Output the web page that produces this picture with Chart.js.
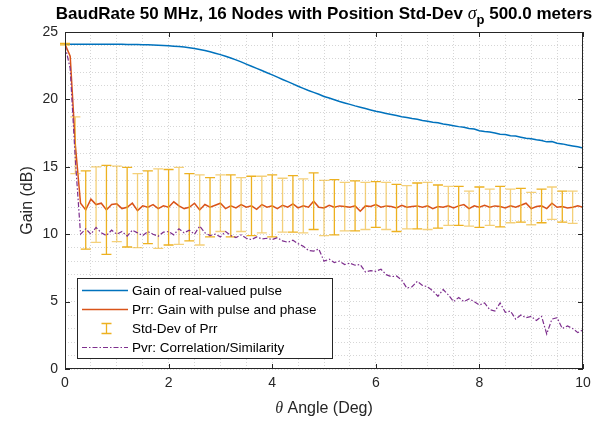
<!DOCTYPE html>
<html>
<head>
<meta charset="utf-8">
<script src="https://cdn.jsdelivr.net/npm/chart.js@4.4.1/dist/chart.umd.min.js"></script>
<style>
  html, body { margin: 0; padding: 0; background: #fff; }
</style>
</head>
<body>
<canvas id="chart" width="612" height="424"></canvas>
<script>
// angle in degrees (x values)
const angle = [0,0.1,0.2,0.3,0.4,0.5,0.6,0.7,0.8,0.9,1,1.1,1.2,1.3,1.4,1.5,1.6,1.7,1.8,1.9,2,2.1,2.2,2.3,2.4,2.5,2.6,2.7,2.8,2.9,3,3.1,3.2,3.3,3.4,3.5,3.6,3.7,3.8,3.9,4,4.1,4.2,4.3,4.4,4.5,4.6,4.7,4.8,4.9,5,5.1,5.2,5.3,5.4,5.5,5.6,5.7,5.8,5.9,6,6.1,6.2,6.3,6.4,6.5,6.6,6.7,6.8,6.9,7,7.1,7.2,7.3,7.4,7.5,7.6,7.7,7.8,7.9,8,8.1,8.2,8.3,8.4,8.5,8.6,8.7,8.8,8.9,9,9.1,9.2,9.3,9.4,9.5,9.6,9.7,9.8,9.9,10]

// Gain of real-valued pulse (dB)
const gainReal = [24.10,24.10,24.10,24.10,24.10,24.10,24.10,24.10,24.10,24.09,24.09,24.09,24.08,24.08,24.07,24.06,24.05,24.04,24.02,24.00,23.98,
  23.95,23.92,23.88,23.83,23.77,23.70,23.62,23.53,23.43,23.32,
  23.20,23.07,22.93,22.78,22.62,22.46,22.30,22.14,21.98,21.82,
  21.65,21.48,21.32,21.15,20.98,20.82,20.66,20.52,20.38,20.22,
  20.10,19.98,19.85,19.74,19.63,19.52,19.42,19.32,19.22,19.12,
  19.05,18.95,18.88,18.80,18.72,18.66,18.58,18.52,18.44,18.38,
  18.30,18.26,18.18,18.12,18.05,17.98,17.93,17.84,17.80,17.68,
  17.62,17.58,17.50,17.42,17.40,17.30,17.28,17.20,17.12,17.08,
  17.00,16.95,16.85,16.88,16.75,16.70,16.62,16.55,16.48,16.40,16.32]

// Prr: gain with pulse and phase (dB)
const prr = [24.1,23.2,16.6,12.3,11.8,12.6,12.2,12.3,11.8,12.2,12.25,
  11.9,12.0,12.3,11.75,12.1,12.0,12.2,11.9,12.1,12.0,
  12.4,12.1,11.9,12.0,12.3,11.8,12.2,12.0,12.15,12.3,
  11.9,12.1,11.95,12.2,12.0,12.1,11.85,12.2,12.0,12.1,
  11.9,12.15,12.0,12.25,11.95,12.1,12.0,12.45,12.0,11.95,
  12.15,12.0,12.1,12.05,12.0,12.1,11.7,12.1,12.05,12.2,
  12.0,12.1,12.05,11.95,12.15,12.0,12.05,12.1,12.0,12.1,
  11.9,12.05,12.0,12.1,11.95,12.1,12.2,11.9,12.1,12.0,
  12.15,12.0,12.1,12.05,11.95,12.1,12.0,12.15,12.3,11.9,
  12.05,12.1,11.9,12.3,12.0,12.05,11.95,12.0,12.1,12.0]

// Pvr: correlation / similarity (dB)
const pvr = [24.0,22.3,15.5,10.0,10.4,10.0,10.5,10.1,9.9,10.3,10.0,
  10.2,9.85,10.3,10.1,9.9,10.2,10.0,9.85,10.15,10.2,
  9.95,10.4,10.1,10.3,10.0,10.6,10.1,9.9,10.0,9.8,
  10.2,9.9,9.75,9.95,9.7,9.6,9.8,9.65,9.7,9.6,
  9.75,9.5,9.4,9.55,9.3,9.1,8.8,8.75,8.9,8.0,
  8.15,7.9,8.0,7.75,7.85,7.7,7.75,7.2,7.3,7.25,
  7.4,7.0,6.85,6.9,6.6,6.0,6.1,6.5,6.2,6.1,
  5.8,5.4,5.9,5.5,5.0,5.3,5.0,5.2,5.0,4.75,
  4.9,4.4,4.3,4.9,4.2,4.3,3.7,4.0,3.8,3.9,
  3.6,3.9,2.6,3.7,3.8,3.0,3.2,3.0,2.7,2.9]

// Std-Dev of Prr at the error bar positions
const errAngle = [0,0.2,0.4,0.6,0.8,1,1.2,1.4,1.6,1.8,2,2.2,2.4,2.6,2.8,3,3.2,3.4,3.6,3.8,4,4.2,4.4,4.6,4.8,5,5.2,5.4,5.6,5.8,6,6.2,6.4,6.6,6.8,7,7.2,7.4,7.6,7.8,8,8.2,8.4,8.6,8.8,9,9.2,9.4,9.6,9.8]
const prrStd = [0.05,2.1,2.9,2.8,3.3,2.8,2.95,2.75,2.7,2.95,2.8,2.85,2.5,2.6,
  2.2,2.1,2.3,2.0,2.2,2.1,2.3,2.0,2.1,2.0,2.1,2.05,2.05,1.8,1.85,1.75,
  1.7,1.75,1.75,1.6,1.7,1.75,1.6,1.45,1.45,1.3,1.5,1.35,1.5,1.25,1.25,
  1.2,1.25,1.2,1.15,1.2]

const xTicks = [0,2,4,6,8,10]
const yTicks = [0,5,10,15,20,25]

const seriesNames = ['Gain of real-valued pulse','Prr: Gain with pulse and phase','Std-Dev of Prr','Pvr: Correlation/Similarity']
const BLUE = '#0072BD', RED = '#D95319', YELLOW = '#EDB120', PURPLE = '#7E2F8E'
const AXIS = '#262626'
const SANS = '"Liberation Sans", Arial, Helvetica, sans-serif'
const SERIF = '"Liberation Serif", "DejaVu Serif", serif'

function pts(ys) {
  return angle.map((a, i) => ({x: a, y: ys[i]}))
}

// error bars drawn right after the Prr line so Pvr stays on top
const errorBars = {
  id: 'errorBars',
  afterDatasetDraw(chart, args) {
    if (args.index !== 1) return
    const {ctx, scales: {x, y}} = chart
    ctx.save()
    ctx.lineWidth = 1.3
    errAngle.forEach((a, i) => {
      const m = prr[angle.indexOf(a)]
      const px = x.getPixelForValue(a)
      const top = y.getPixelForValue(m + prrStd[i])
      const bot = y.getPixelForValue(m - prrStd[i])
      ctx.strokeStyle = i % 2 ? 'rgba(237,177,32,0.6)' : YELLOW
      ctx.beginPath()
      ctx.moveTo(px, top); ctx.lineTo(px, bot)
      ctx.moveTo(px - 5, top); ctx.lineTo(px + 5, top)
      ctx.moveTo(px - 5, bot); ctx.lineTo(px + 5, bot)
      ctx.stroke()
    })
    ctx.restore()
  }
}

function drawParts(ctx, parts, cx, baseY) {
  let w = 0
  parts.forEach(p => { ctx.font = p.f; w += ctx.measureText(p.t).width })
  let xx = cx - w / 2
  parts.forEach(p => {
    ctx.font = p.f
    ctx.fillText(p.t, xx, baseY + (p.dy || 0))
    xx += ctx.measureText(p.t).width
  })
}

const decorations = {
  id: 'decorations',
  afterDraw(chart) {
    const {ctx, chartArea: a, scales: {x, y}} = chart
    ctx.save()
    // axes box
    ctx.strokeStyle = AXIS
    ctx.lineWidth = 1
    ctx.strokeRect(a.left + 0.5, a.top + 0.5, a.right - a.left - 1, a.bottom - a.top - 1)
    // inward tick marks
    ctx.beginPath()
    xTicks.forEach(v => {
      const px = Math.round(x.getPixelForValue(v)) + 0.5
      ctx.moveTo(px, a.bottom); ctx.lineTo(px, a.bottom - 5)
      ctx.moveTo(px, a.top); ctx.lineTo(px, a.top + 5)
    })
    yTicks.forEach(v => {
      const py = Math.round(y.getPixelForValue(v)) + 0.5
      ctx.moveTo(a.left, py); ctx.lineTo(a.left + 5, py)
      ctx.moveTo(a.right, py); ctx.lineTo(a.right - 5, py)
    })
    ctx.stroke()

    // title
    ctx.fillStyle = '#000'
    ctx.textBaseline = 'alphabetic'
    const cx = (a.left + a.right) / 2
    drawParts(ctx, [
      {t: 'BaudRate 50 MHz, 16 Nodes with Position Std-Dev ', f: 'bold 17px ' + SANS},
      {t: 'σ', f: 'italic 18px ' + SERIF},
      {t: 'p', f: 'bold 13px ' + SANS, dy: 5},
      {t: ' 500.0 meters', f: 'bold 17px ' + SANS}
    ], cx, 19)

    // x axis title
    ctx.fillStyle = AXIS
    drawParts(ctx, [
      {t: 'θ', f: 'italic 16px ' + SERIF},
      {t: ' Angle (Deg)', f: '16px ' + SANS}
    ], cx, 413)

    // y axis title
    ctx.save()
    ctx.translate(28, (a.top + a.bottom) / 2)
    ctx.rotate(-Math.PI / 2)
    ctx.textAlign = 'center'
    ctx.textBaseline = 'middle'
    ctx.font = '16px ' + SANS
    ctx.fillText('Gain (dB)', 0, 0)
    ctx.restore()

    // legend box
    const lx = 77, ly = 278, lw = 255, lh = 80
    ctx.fillStyle = '#fff'
    ctx.fillRect(lx, ly, lw, lh)
    ctx.strokeStyle = AXIS
    ctx.lineWidth = 1
    ctx.strokeRect(lx + 0.5, ly + 0.5, lw, lh)
    const rows = [290.5, 309.5, 328.5, 347.5]
    const styles = [
      {c: BLUE, w: 1.5, d: []},
      {c: RED, w: 1.5, d: []},
      null,
      {c: PURPLE, w: 1.2, d: [5, 2, 1.5, 2]}
    ]
    rows.forEach((ry, i) => {
      const s = styles[i]
      ctx.beginPath()
      if (s) {
        ctx.strokeStyle = s.c; ctx.lineWidth = s.w; ctx.setLineDash(s.d)
        ctx.moveTo(82, ry); ctx.lineTo(128, ry)
      } else {
        ctx.strokeStyle = YELLOW; ctx.lineWidth = 1.3; ctx.setLineDash([])
        ctx.moveTo(106.5, ry - 5); ctx.lineTo(106.5, ry + 5)
        ctx.moveTo(101.5, ry - 5); ctx.lineTo(111.5, ry - 5)
        ctx.moveTo(101.5, ry + 5); ctx.lineTo(111.5, ry + 5)
      }
      ctx.stroke()
      ctx.setLineDash([])
      ctx.fillStyle = '#000'
      ctx.font = '13.5px ' + SANS
      ctx.textAlign = 'left'
      ctx.textBaseline = 'middle'
      ctx.fillText(seriesNames[i], 132, ry + 0.5)
    })
    ctx.restore()
  }
}

const gridOpts = {color: '#d6d6d6', lineWidth: 1, drawTicks: false}

new Chart(document.getElementById('chart'), {
  type: 'line',
  data: {
    datasets: [
      {label: seriesNames[0], data: pts(gainReal), borderColor: BLUE, borderWidth: 1.5, order: 4},
      {label: seriesNames[1], data: pts(prr), borderColor: RED, borderWidth: 1.5, order: 3},
      {label: seriesNames[3], data: pts(pvr), borderColor: PURPLE, borderWidth: 1.2, borderDash: [5, 2, 1.5, 2], order: 1}
    ]
  },
  options: {
    responsive: false,
    animation: false,
    parsing: false,
    layout: {padding: {left: 0, right: 29, top: 32, bottom: 0}},
    elements: {point: {radius: 0}, line: {tension: 0}},
    plugins: {legend: {display: false}, title: {display: false}, tooltip: {enabled: false}},
    scales: {
      x: {
        type: 'linear', min: 0, max: 10,
        grid: gridOpts,
        border: {display: false, dash: [1, 2]},
        afterFit: s => { s.height = 55 },
        ticks: {
          stepSize: 0.5, autoSkip: false, maxRotation: 0, padding: 6,
          color: AXIS, font: {family: SANS, size: 14},
          callback: v => xTicks.includes(v) ? String(v) : ''
        }
      },
      y: {
        type: 'linear', min: 0, max: 25,
        grid: gridOpts,
        border: {display: false, dash: [1, 2]},
        afterFit: s => { s.width = 65 },
        ticks: {
          stepSize: 1, autoSkip: false, padding: 7,
          color: AXIS, font: {family: SANS, size: 14},
          callback: v => yTicks.includes(v) ? String(v) : ''
        }
      }
    }
  },
  plugins: [errorBars, decorations]
})
</script>
</body>
</html>
